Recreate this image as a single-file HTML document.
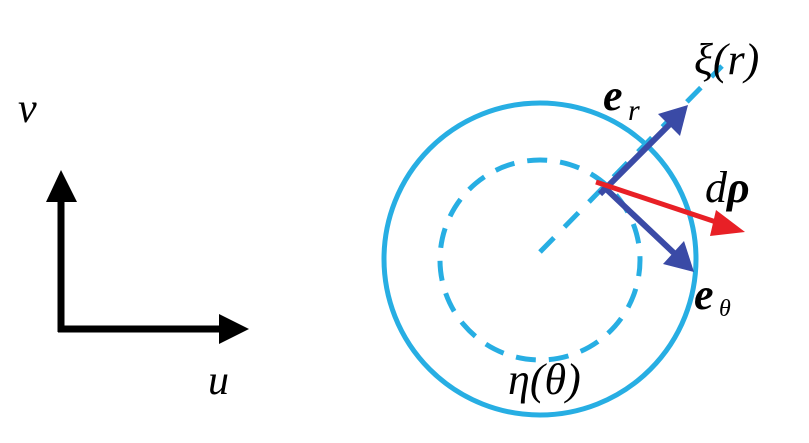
<!DOCTYPE html>
<html><head><style>
body{margin:0;background:#fff;width:809px;height:438px;overflow:hidden}
text{font-family:"Liberation Serif","DejaVu Serif",serif;}
</style></head><body>
<svg width="809" height="438" viewBox="0 0 809 438" xmlns="http://www.w3.org/2000/svg">
<line x1="61" y1="332" x2="61" y2="198" stroke="#000" stroke-width="7"/>
<polygon points="61,170 46,202 77,202" fill="#000"/>
<line x1="58" y1="329" x2="222" y2="329" stroke="#000" stroke-width="7"/>
<polygon points="249,329 219,314 219,344" fill="#000"/>
<text x="18" y="122" font-size="42" font-style="italic">v</text>
<text x="208" y="394" font-size="42" font-style="italic">u</text>
<circle cx="540" cy="259" r="156" fill="none" stroke="#27aee3" stroke-width="5"/>
<circle cx="540" cy="260" r="100" fill="none" stroke="#27aee3" stroke-width="5" stroke-dasharray="20,13" transform="rotate(-40 540 260)"/>
<line x1="540" y1="252" x2="722" y2="66" stroke="#27aee3" stroke-width="5" stroke-dasharray="20,15"/>
<line x1="600" y1="194" x2="672" y2="122" stroke="#3a4aa6" stroke-width="6"/>
<polygon points="688,105 658,114 680,136" fill="#3a4aa6"/>
<line x1="603" y1="186" x2="676" y2="255" stroke="#3a4aa6" stroke-width="6"/>
<polygon points="694,272 684,241 663,264" fill="#3a4aa6"/>
<line x1="596" y1="182" x2="722" y2="224" stroke="#e82026" stroke-width="5"/>
<polygon points="745,232 716,210 710,236" fill="#e82026"/>
<text x="694" y="74" font-size="44" font-style="italic">ξ(r)</text>
<text x="603" y="110" font-size="44" font-style="italic" font-weight="bold">e</text>
<text x="628" y="120" font-size="30" font-style="italic">r</text>
<text x="705" y="202" font-size="44" font-style="italic">d<tspan font-weight="bold">ρ</tspan></text>
<text x="694" y="309" font-size="44" font-style="italic" font-weight="bold">e</text>
<text x="719" y="316" font-size="24" font-style="italic">θ</text>
<text x="508" y="394" font-size="44" font-style="italic">η(θ)</text>
</svg>
</body></html>
